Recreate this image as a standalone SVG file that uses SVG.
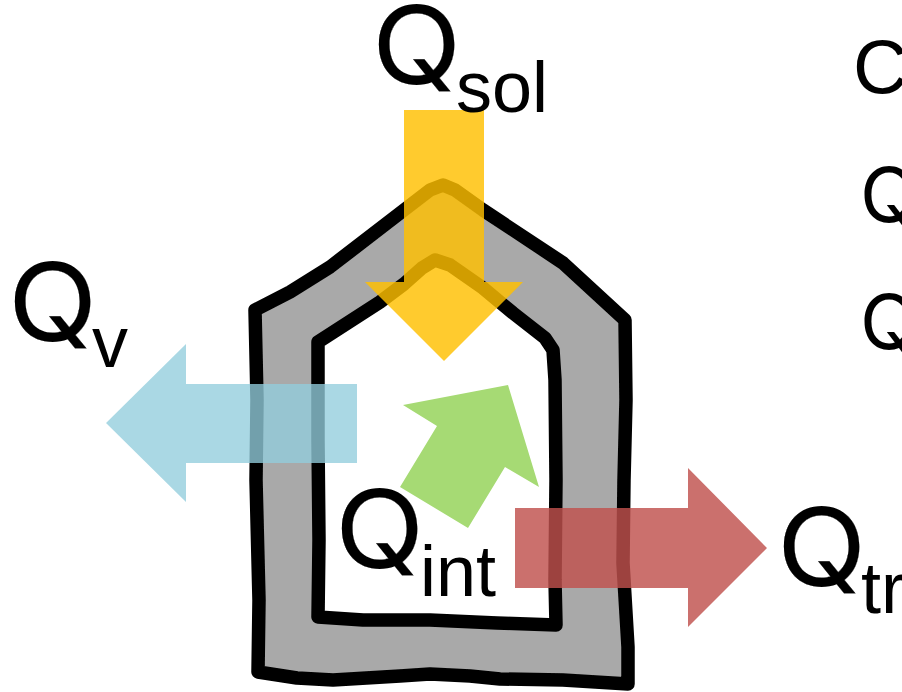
<svg xmlns="http://www.w3.org/2000/svg" width="902" height="692" viewBox="0 0 902 692">
<style>
text{font-family:"Liberation Sans",Arial,sans-serif;fill:#000}
.q{font-size:108px;font-family:Inter,"Liberation Sans",sans-serif;stroke:#000;stroke-width:.2}.s{font-size:72px}
.r{font-size:76px}.rq{font-size:76px;font-family:Inter,"Liberation Sans",sans-serif}
.wall{stroke:#000;stroke-width:13.5;stroke-linejoin:round;filter:url(#soft)}
</style>
<defs><filter id="soft" x="-5%" y="-5%" width="110%" height="110%"><feGaussianBlur stdDeviation="0.6"/></filter></defs>
<rect width="902" height="692" fill="#fff"/>
<g id="house">
<path class="wall" fill="#a9a9a9" d="M255 310L290 292L330 267L404 210L430 190L443 185L455 190L483 210L563 263L625 320L626 400L624 480L623 563L628 647L628 684L563 680L500 679L470 676L430 674L400 676L333 680L297 678L258 672L259 600L256 480L257 400Z"/>
<path class="wall" fill="#fff" d="M318 342L380 302L404 284L422 268L435 260L450 265L483 288L513 313L545 338L553 350L555 380L556 480L555 580L556 625L497 623L430 620L363 620L318 617L319 540L318 440Z"/>
</g>
<g id="connectors">
<path id="arrow-sol" fill="#ffc000" fill-opacity=".82" d="M404 110H484V282H523L444 361L365 282H404Z"/>
<path id="arrow-v" fill="#92cddc" fill-opacity=".78" d="M357 384H186V344L106 423L186 502V463H357Z"/>
<path id="arrow-int" fill="#a6da74" d="M403 405L508 385L539 487L505 467L468 528L400 487L437 426Z"/>
<path id="arrow-tr" fill="#c0504d" fill-opacity=".82" d="M515 508H688V468L767 548L688 627V588H515Z"/>
</g>
<g id="label-sol"><text class="q" transform="translate(372 84) scale(1.08 1)">Q</text><text class="s" x="456" y="112">sol</text></g>
<g id="label-v"><text class="q" transform="translate(8 341) scale(1.08 1)">Q</text><text class="s" x="92" y="367">v</text></g>
<g id="label-int"><text class="q" transform="translate(335 568) scale(1.08 1)">Q</text><text class="s" x="420" y="596">int</text></g>
<g id="label-tr"><text class="q" transform="translate(777 586) scale(1.08 1)">Q</text><text class="s" x="861" y="613">tr</text></g>
<g id="legend"><text class="r" x="853" y="93">C</text><text class="rq" x="860" y="222">Q</text><text class="rq" x="860" y="349">Q</text></g>
</svg>
